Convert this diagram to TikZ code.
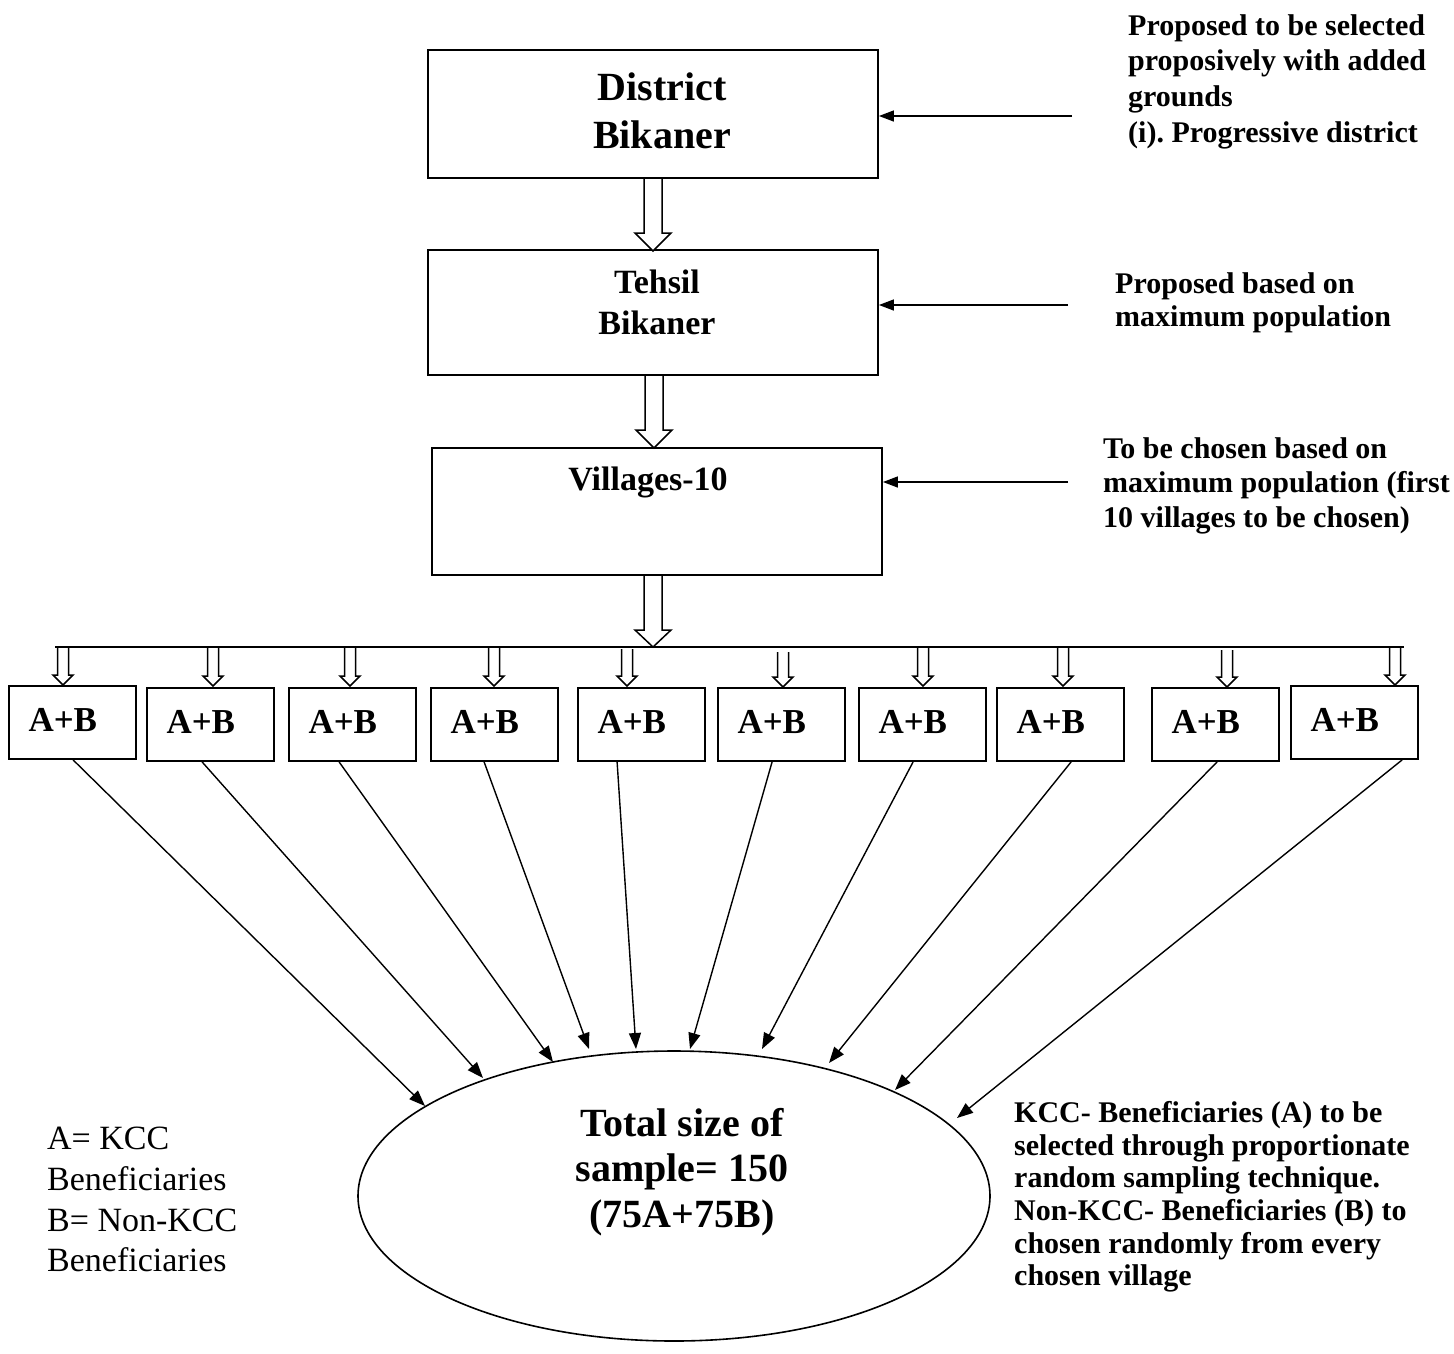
\documentclass[tikz,border=0pt]{standalone}
\usepackage{fontspec}
\setmainfont{Liberation Serif}
\usetikzlibrary{arrows.meta,shapes.geometric}
\frenchspacing
\tikzset{
  box/.style={draw, line width=1.8pt, inner sep=0pt},
  hollow/.style={draw, fill=white, line width=1.5pt, line join=miter},
  abbox/.style={draw, line width=1.8pt, minimum width=127pt, minimum height=73pt, text width=88pt, text height=25pt, text depth=8pt, inner xsep=19.5pt, inner ysep=0pt, align=left, font=\fontsize{35}{40}\selectfont\bfseries},
  conn/.style={line width=1.4pt, -{Triangle[length=16pt,width=12pt]}},
  sidearrow/.style={line width=1.4pt, -{Triangle[length=15pt,width=11pt]}},
  note/.style={anchor=north west, align=left, inner sep=0pt},
}
% hollow down arrow: x, ytop, ytip, shaft half width, head half width, head length
\newcommand\hollowdown[6]{%
  \draw[hollow] ({#1-#4},#2) -- ({#1-#4},{#3-#6}) -- ({#1-#5},{#3-#6}) -- (#1,#3)
    -- ({#1+#5},{#3-#6}) -- ({#1+#4},{#3-#6}) -- ({#1+#4},#2);}
\begin{document}
\begin{tikzpicture}[x=1pt,y=-1pt]
\useasboundingbox (0,0) rectangle (1454,1353);

% main boxes
\node[box, minimum width=450pt, minimum height=128pt] (district) at (653,114) {};
\node[font=\fontsize{40}{48}\selectfont\bfseries, align=center, inner sep=0pt] (districttxt) at (662,111) {District\\Bikaner};
\node[box, minimum width=450pt, minimum height=125pt] (tehsil) at (653,312.5) {};
\node[font=\fontsize{34}{41}\selectfont\bfseries, align=center, inner sep=0pt] (tehsiltxt) at (657,302) {Tehsil\\Bikaner};
\node[box, minimum width=450pt, minimum height=127pt] (villages) at (657,511.5) {};
\node[font=\fontsize{34}{41}\selectfont\bfseries, inner sep=0pt] (villagestxt) at (648,482) {Villages-10};

% big hollow arrows
\hollowdown{653}{179}{251}{9}{18}{18}
\hollowdown{654}{376}{448}{9}{18}{18}
\hollowdown{653}{576}{647}{9}{18}{17}

% distribution line
\coordinate (busL) at (55,647);
\coordinate (busR) at (1404,647);
\draw[line width=1.8pt] (busL) -- (busR);

% small hollow arrows
\foreach \x/\t/\b in {63/648/685,213/648/686,350/648/686,494/648/686,627/649/686,783/652/687,923/648/686,1063/648/686,1227/650/687,1395/648/685}{
  \hollowdown{\x}{\t}{\b}{5.5}{10}{10}
}

% A+B boxes
\node[abbox] (b1) at (72.5,722.5) {A+B};
\node[abbox] (b2) at (210.5,724.5) {A+B};
\node[abbox] (b3) at (352.5,724.5) {A+B};
\node[abbox] (b4) at (494.5,724.5) {A+B};
\node[abbox] (b5) at (641.5,724.5) {A+B};
\node[abbox] (b6) at (781.5,724.5) {A+B};
\node[abbox] (b7) at (922.5,724.5) {A+B};
\node[abbox] (b8) at (1060.5,724.5) {A+B};
\node[abbox] (b9) at (1215.5,724.5) {A+B};
\node[abbox] (b10) at (1354.5,722.5) {A+B};

% ellipse
\node[ellipse, draw, line width=1.6pt, minimum width=632pt, minimum height=290pt, inner sep=0pt] (total) at (674,1196) {};
\node[font=\fontsize{40}{45.5}\selectfont\bfseries, align=center, inner sep=0pt] (totaltxt) at (682,1172) {Total size of\\sample= 150\\(75A+75B)};

% tips on ellipse
\coordinate (t1) at (425,1106);
\coordinate (t2) at (483,1078);
\coordinate (t3) at (553,1062);
\coordinate (t4) at (589,1049);
\coordinate (t5) at (636,1049);
\coordinate (t6) at (690,1049);
\coordinate (t7) at (762,1049);
\coordinate (t8) at (829,1063);
\coordinate (t9) at (895,1090);
\coordinate (t10) at (957,1118);

\draw[conn] ([xshift=65pt]b1.south west) -- (t1);
\draw[conn] ([xshift=56pt]b2.south west) -- (t2);
\draw[conn] ([xshift=51pt]b3.south west) -- (t3);
\draw[conn] ([xshift=54pt]b4.south west) -- (t4);
\draw[conn] ([xshift=40pt]b5.south west) -- (t5);
\draw[conn] ([xshift=55pt]b6.south west) -- (t6);
\draw[conn] ([xshift=55pt]b7.south west) -- (t7);
\draw[conn] ([xshift=75pt]b8.south west) -- (t8);
\draw[conn] ([xshift=66pt]b9.south west) -- (t9);
\draw[conn] ([xshift=112pt]b10.south west) -- (t10);

% side notes
\node[note, font=\fontsize{30}{35.7}\selectfont\bfseries] (n1) at (1128,14) {Proposed to be selected\\proposively with added\\grounds\\(i). Progressive district};
\coordinate (c1) at (1072,116);
\draw[sidearrow] (c1) -- (c1 -| district.east);

\node[note, font=\fontsize{30}{33.5}\selectfont\bfseries] (n2) at (1115,272) {Proposed based on\\maximum population};
\coordinate (c2) at (1068,305);
\draw[sidearrow] (c2) -- (c2 -| tehsil.east);

\node[note, font=\fontsize{30}{34.5}\selectfont\bfseries] (n3) at (1103,437) {To be chosen based on\\maximum population (first\\10 villages to be chosen)};
\coordinate (c3) at (1068,482);
\draw[sidearrow] (c3) -- (c3 -| villages.east);

\node[note, font=\fontsize{30}{32.7}\selectfont\bfseries] (n4) at (1014,1101) {KCC- Beneficiaries (A) to be\\selected through proportionate\\random sampling technique.\\Non-KCC- Beneficiaries (B) to\\chosen randomly from every\\chosen village};

\node[note, font=\fontsize{34}{40.7}\selectfont] (legend) at (47,1127) {A= KCC\\Beneficiaries\\B= Non-KCC\\Beneficiaries};
\end{tikzpicture}
\end{document}
